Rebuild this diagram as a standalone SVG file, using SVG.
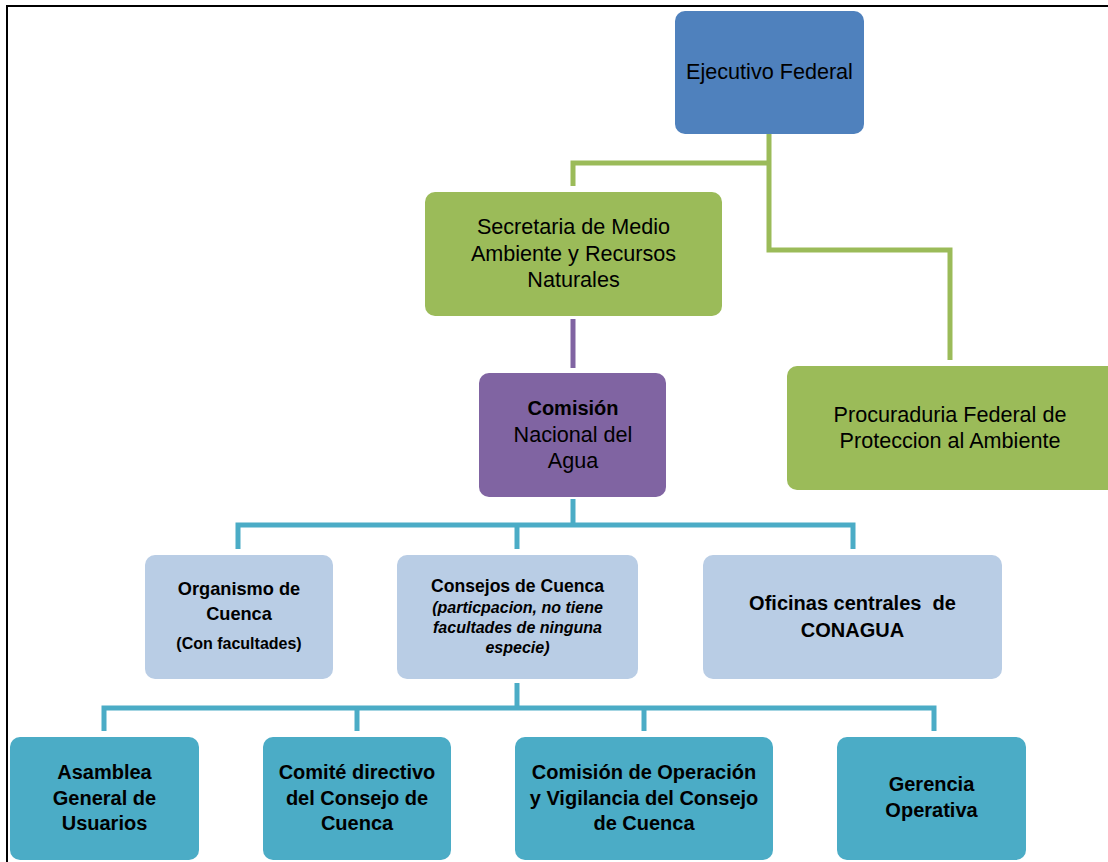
<svg xmlns="http://www.w3.org/2000/svg" width="1108" height="862" viewBox="0 0 1108 862">
<style>
text{font-family:"Liberation Sans",Arial,sans-serif;fill:#000;text-anchor:middle}
.r{font-size:21.6px}
.b{font-size:20px;font-weight:bold}
.b18{font-size:18.2px;font-weight:bold}
.b17{font-size:17.6px;font-weight:bold}
.b16{font-size:16px;font-weight:bold}
.bi{font-size:16px;font-weight:bold;font-style:italic}
.blue{fill:#4F81BD}
.green{fill:#9BBB59}
.purple{fill:#8064A2}
.light{fill:#B9CDE5}
.teal{fill:#4BACC6}
.c{fill:none;stroke-width:5;stroke-linejoin:miter;stroke-linecap:butt}
</style>
<rect width="1108" height="862" fill="#fff"/>
<g id="frame" fill="none" stroke="#000" stroke-width="2">
<path d="M7,862 V6 H1108"/>
</g>
<g id="connectors">
<path class="c" stroke="#9BBB59" d="M769,134 V250 H950 V360"/>
<path class="c" stroke="#9BBB59" d="M769,163 H573 V186"/>
<path class="c" stroke="#8064A2" d="M573,319 V368"/>
<path class="c" stroke="#4BACC6" d="M573,499 V525"/>
<path class="c" stroke="#4BACC6" d="M238,549 V525 H853 V549"/>
<path class="c" stroke="#4BACC6" d="M517,525 V549"/>
<path class="c" stroke="#4BACC6" d="M517,683 V708"/>
<path class="c" stroke="#4BACC6" d="M104,731 V708 H934 V731"/>
<path class="c" stroke="#4BACC6" d="M357,708 V731"/>
<path class="c" stroke="#4BACC6" d="M644,708 V731"/>
</g>
<g id="ejecutivo">
<rect class="blue" x="675" y="11" width="189" height="123" rx="10"/>
<text class="r" x="769.5" y="79">Ejecutivo Federal</text>
</g>
<g id="secretaria">
<rect class="green" x="425" y="192" width="297" height="124" rx="10"/>
<text class="r" x="573.5" y="234">Secretaria de Medio</text>
<text class="r" x="573.5" y="261">Ambiente y Recursos</text>
<text class="r" x="573.5" y="287">Naturales</text>
</g>
<g id="procuraduria">
<rect class="green" x="787" y="366" width="330" height="124" rx="10"/>
<text class="r" x="950" y="422">Procuraduria Federal de</text>
<text class="r" x="950" y="448">Proteccion al Ambiente</text>
</g>
<g id="comision">
<rect class="purple" x="479" y="373" width="187" height="124" rx="10"/>
<text class="b" x="573" y="415">Comisión</text>
<text class="r" x="573" y="442">Nacional del</text>
<text class="r" x="573" y="468">Agua</text>
</g>
<g id="organismo">
<rect class="light" x="145" y="555" width="188" height="124" rx="10"/>
<text class="b18" x="239" y="595">Organismo de</text>
<text class="b18" x="239" y="620">Cuenca</text>
<text class="b16" x="239" y="649">(Con facultades)</text>
</g>
<g id="consejos">
<rect class="light" x="397" y="555" width="241" height="124" rx="10"/>
<text class="b17" x="517.5" y="592">Consejos de Cuenca</text>
<text class="bi" x="517.5" y="613">(particpacion, no tiene</text>
<text class="bi" x="517.5" y="633">facultades de ninguna</text>
<text class="bi" x="517.5" y="653">especie)</text>
</g>
<g id="oficinas">
<rect class="light" x="703" y="555" width="299" height="124" rx="10"/>
<text class="b" x="852.5" y="610" xml:space="preserve">Oficinas centrales  de</text>
<text class="b" x="852.5" y="637">CONAGUA</text>
</g>
<g id="asamblea">
<rect class="teal" x="10" y="737" width="189" height="123" rx="10"/>
<text class="b" x="104.5" y="779">Asamblea</text>
<text class="b" x="104.5" y="805">General de</text>
<text class="b" x="104.5" y="830">Usuarios</text>
</g>
<g id="comite">
<rect class="teal" x="263" y="737" width="188" height="123" rx="10"/>
<text class="b" x="357" y="779">Comité directivo</text>
<text class="b" x="357" y="805">del Consejo de</text>
<text class="b" x="357" y="830">Cuenca</text>
</g>
<g id="comision-operacion">
<rect class="teal" x="515" y="737" width="258" height="123" rx="10"/>
<text class="b" x="644" y="779">Comisión de Operación</text>
<text class="b" x="644" y="805">y Vigilancia del Consejo</text>
<text class="b" x="644" y="830">de Cuenca</text>
</g>
<g id="gerencia">
<rect class="teal" x="837" y="737" width="189" height="123" rx="10"/>
<text class="b" x="931.5" y="791">Gerencia</text>
<text class="b" x="931.5" y="817">Operativa</text>
</g>
</svg>
